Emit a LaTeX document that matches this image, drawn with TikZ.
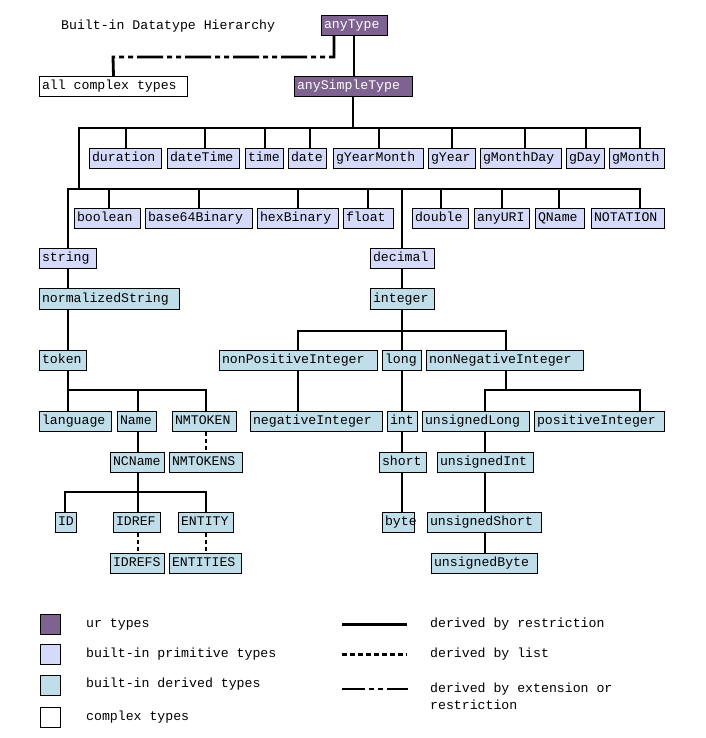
\documentclass[tikz,border=0pt]{standalone}
\usepackage{fontspec}
\setmonofont{Liberation Mono}
\definecolor{urc}{HTML}{7E6390}
\definecolor{primc}{HTML}{D6DAFA}
\definecolor{derc}{HTML}{C0DEEA}
\newcommand\bx[7]{%
  \pgfmathsetmacro\bxw{#4-#2}\pgfmathsetmacro\bxh{#5-#3}\pgfmathsetmacro\bxt{#4-#2-5}%
  \node[#7, minimum width=\bxw pt, minimum height=\bxh pt] (#1) at (#2,#3) {\makebox[\bxt pt][l]{#6}};}
\newcommand\vl[4][conn]{\coordinate (tmpa) at (#2,0); \draw[#1] (tmpa |- #3) -- (tmpa |- #4);}
\newcommand\hl[4][conn]{\coordinate (tmpa) at (#2,0); \coordinate (tmpb) at (#3,0); \draw[#1] (tmpa |- #4) -- (tmpb |- #4);}
\begin{document}
\begin{tikzpicture}[x=1pt,y=-1pt,
  box/.style={draw=black, line width=1pt, anchor=north west, inner xsep=2.5pt, inner ysep=0pt,
    text height=9.5pt, text depth=3pt,
    font=\ttfamily\fontsize{13.2}{14}\selectfont},
  ur/.style={box, fill=urc, text=white},
  prim/.style={box, fill=primc},
  der/.style={box, fill=derc},
  cplx/.style={box, fill=white},
  conn/.style={line width=2.8pt, line cap=rect},
  lst/.style={line width=2.8pt, dash pattern=on 4pt off 3pt},
  ext/.style={line width=2.8pt, dash pattern=on 26pt off 4pt on 5pt off 4pt on 5pt off 4pt},
  lab/.style={anchor=west, inner sep=0pt, font=\ttfamily\fontsize{13.2}{14}\selectfont}]
\useasboundingbox (0,0) rectangle (705,738);

\node[lab] (title) at (61,26) {Built-in Datatype Hierarchy};

% boxes
\bx{anyType}{321}{15}{387}{35}{anyType}{ur}
\bx{complex}{39}{76}{187}{96}{all complex types}{cplx}
\bx{anySimple}{294}{76}{412}{96}{anySimpleType}{ur}

\bx{dur}{89}{148}{161}{168}{duration}{prim}
\bx{dt}{167}{148}{239}{168}{dateTime}{prim}
\bx{time}{245}{148}{283}{168}{time}{prim}
\bx{date}{288}{148}{326}{168}{date}{prim}
\bx{gym}{333}{148}{423}{168}{gYearMonth}{prim}
\bx{gy}{428}{148}{475}{168}{gYear}{prim}
\bx{gmd}{480}{148}{561}{168}{gMonthDay}{prim}
\bx{gday}{566}{148}{604}{168}{gDay}{prim}
\bx{gmon}{609}{148}{664}{168}{gMonth}{prim}

\bx{bool}{74}{208}{140}{228}{boolean}{prim}
\bx{b64}{145}{208}{252}{228}{base64Binary}{prim}
\bx{hex}{257}{208}{338}{228}{hexBinary}{prim}
\bx{float}{343}{208}{393}{228}{float}{prim}
\bx{double}{412}{208}{468}{228}{double}{prim}
\bx{uri}{474}{208}{529}{228}{anyURI}{prim}
\bx{qname}{535}{208}{584}{228}{QName}{prim}
\bx{notation}{591}{208}{664}{228}{NOTATION}{prim}

\bx{string}{39}{248}{96}{268}{string}{prim}
\bx{normStr}{39}{288}{179}{309}{normalizedString}{der}
\bx{decimal}{370}{248}{434}{268}{decimal}{prim}
\bx{integer}{370}{288}{434}{309}{integer}{der}

\bx{token}{39}{350}{86}{370}{token}{der}
\bx{npi}{219}{350}{377}{370}{nonPositiveInteger}{der}
\bx{long}{382}{350}{421}{370}{long}{der}
\bx{nni}{426}{350}{583}{370}{nonNegativeInteger}{der}

\bx{language}{39}{411}{111}{431}{language}{der}
\bx{Name}{117}{411}{156}{431}{Name}{der}
\bx{nmtoken}{172}{411}{236}{431}{NMTOKEN}{der}
\bx{negInt}{250}{411}{382}{431}{negativeInteger}{der}
\bx{int}{387}{411}{417}{431}{int}{der}
\bx{ulong}{422}{411}{529}{431}{unsignedLong}{der}
\bx{posInt}{534}{411}{664}{431}{positiveInteger}{der}

\bx{ncname}{110}{452}{164}{472}{NCName}{der}
\bx{nmtokens}{169}{452}{242}{472}{NMTOKENS}{der}
\bx{short}{379}{452}{426}{472}{short}{der}
\bx{uint}{437}{452}{533}{472}{unsignedInt}{der}

\bx{ID}{55}{512}{76}{532}{ID}{der}
\bx{idref}{113}{512}{160}{532}{IDREF}{der}
\bx{entity}{178}{512}{233}{532}{ENTITY}{der}
\bx{byte}{382}{512}{414}{532}{byte}{der}
\bx{ushort}{427}{512}{541}{532}{unsignedShort}{der}

\bx{idrefs}{110}{553}{164}{573}{IDREFS}{der}
\bx{entities}{169}{553}{241}{573}{ENTITIES}{der}
\bx{ubyte}{431}{553}{537}{573}{unsignedByte}{der}

% junction coordinates
\coordinate (j0) at (0,57);
\coordinate (b1) at (0,128);
\coordinate (b2) at (0,189);
\coordinate (b3) at (0,331);
\coordinate (b4) at (0,390);
\coordinate (b5) at (0,492);

% anyType
\vl{354}{anyType.south}{anySimple.north}
\coordinate (ea) at (334,0); \coordinate (eb) at (113,0);
\draw[ext] (ea |- anyType.south) |- (eb |- j0) -- (complex.north);

% bus 1
\vl{353}{anySimple.south}{b1}
\hl{79}{640}{b1}
\vl{126}{b1}{dur.north}
\vl{205}{b1}{dt.north}
\vl{265}{b1}{time.north}
\vl{310}{b1}{date.north}
\vl{379}{b1}{gym.north}
\vl{452}{b1}{gy.north}
\vl{525}{b1}{gmd.north}
\vl{586}{b1}{gday.north}
\vl{640}{b1}{gmon.north}
\vl{79}{b1}{b2}

% bus 2
\hl{68}{640}{b2}
\vl{68}{b2}{string.north}
\vl{109}{b2}{bool.north}
\vl{199}{b2}{b64.north}
\vl{298}{b2}{hex.north}
\vl{368}{b2}{float.north}
\vl{402}{b2}{decimal.north}
\vl{441}{b2}{double.north}
\vl{502}{b2}{uri.north}
\vl{559}{b2}{qname.north}
\vl{640}{b2}{notation.north}

% string branch
\vl{68}{string.south}{normStr.north}
\vl{68}{normStr.south}{token.north}
\vl{68}{token.south}{b4}
\hl{68}{206}{b4}
\vl{68}{b4}{language.north}
\vl{138}{b4}{Name.north}
\vl{206}{b4}{nmtoken.north}
\vl[lst]{206}{nmtoken.south}{nmtokens.north}
\vl{138}{Name.south}{ncname.north}
\vl{138}{ncname.south}{b5}
\hl{65}{206}{b5}
\vl{65}{b5}{ID.north}
\vl{138}{b5}{idref.north}
\vl{206}{b5}{entity.north}
\vl[lst]{138}{idref.south}{idrefs.north}
\vl[lst]{206}{entity.south}{entities.north}

% decimal branch
\vl{402}{decimal.south}{integer.north}
\vl{402}{integer.south}{b3}
\hl{298}{506}{b3}
\vl{298}{b3}{npi.north}
\vl{402}{b3}{long.north}
\vl{506}{b3}{nni.north}
\vl{298}{npi.south}{negInt.north}
\vl{402}{long.south}{int.north}
\vl{402}{int.south}{short.north}
\vl{402}{short.south}{byte.north}
\vl{506}{nni.south}{b4}
\hl{485}{640}{b4}
\vl{485}{b4}{ulong.north}
\vl{640}{b4}{posInt.north}
\vl{485}{ulong.south}{uint.north}
\vl{485}{uint.south}{ushort.north}
\vl{485}{ushort.south}{ubyte.north}

% legend
\draw[line width=1pt, fill=urc] (40,614) rectangle (60,634);
\draw[line width=1pt, fill=primc] (40,644) rectangle (60,664);
\draw[line width=1pt, fill=derc] (40,675) rectangle (60,695);
\draw[line width=1pt, fill=white] (40,707) rectangle (60,727);
\node[lab] (l1) at (86,624) {ur types};
\node[lab] (l2) at (86,654) {built-in primitive types};
\node[lab] (l3) at (86,684) {built-in derived types};
\node[lab] (l4) at (86,717) {complex types};
\draw[line width=2.2pt] (342,624.5) -- (407,624.5);
\draw[line width=2.2pt, dash pattern=on 5pt off 3pt] (342,654.5) -- (407,654.5);
\draw[line width=2.2pt, dash pattern=on 23pt off 4pt on 5pt off 4pt on 5pt off 4pt on 30pt] (342,689) -- (408,689);
\node[lab] (l5) at (430,624) {derived by restriction};
\node[lab] (l6) at (430,654) {derived by list};
\node[lab] (l7) at (430,689) {derived by extension or};
\node[lab] (l8) at (430,705) {restriction};
\end{tikzpicture}
\end{document}
